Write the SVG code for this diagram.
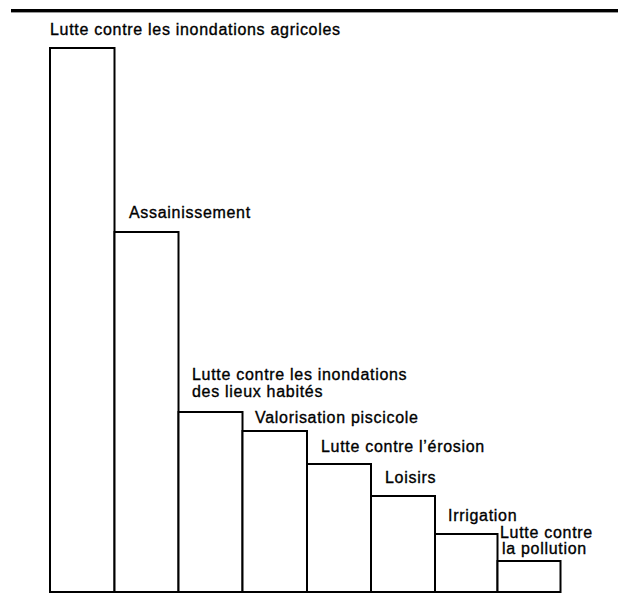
<svg xmlns="http://www.w3.org/2000/svg" width="618" height="607" viewBox="0 0 618 607">
<style>
.bar{fill:#fff;stroke:#000;stroke-width:2}
.lbl{font-family:"Liberation Sans",Arial,Helvetica,sans-serif;font-size:16px;letter-spacing:0.7px;fill:#000;stroke:#000;stroke-width:0.35}
</style>
<rect x="11" y="9" width="607" height="3.4" fill="#000"/>
<g id="bar1"><rect class="bar" x="50" y="48" width="64.5" height="544"/><text class="lbl" x="50" y="35">Lutte contre les inondations agricoles</text></g>
<g id="bar2"><rect class="bar" x="114.5" y="232" width="64" height="360"/><text class="lbl" x="129" y="218">Assainissement</text></g>
<g id="bar3"><rect class="bar" x="178.5" y="412" width="64" height="180"/><text class="lbl" x="192" y="380">Lutte contre les inondations</text><text class="lbl" x="192" y="397">des lieux habités</text></g>
<g id="bar4"><rect class="bar" x="242.5" y="431" width="64.5" height="161"/><text class="lbl" x="255" y="423">Valorisation piscicole</text></g>
<g id="bar5"><rect class="bar" x="307" y="464" width="64" height="128"/><text class="lbl" x="321" y="452">Lutte contre l’érosion</text></g>
<g id="bar6"><rect class="bar" x="371" y="496" width="64" height="96"/><text class="lbl" x="385" y="483">Loisirs</text></g>
<g id="bar7"><rect class="bar" x="435" y="534" width="62.5" height="58"/><text class="lbl" x="448" y="521">Irrigation</text></g>
<g id="bar8"><rect class="bar" x="497.5" y="561" width="63" height="31"/><text class="lbl" x="500" y="538">Lutte contre</text><text class="lbl" x="502" y="554">la pollution</text></g>
<g id="connectors"></g>
</svg>
